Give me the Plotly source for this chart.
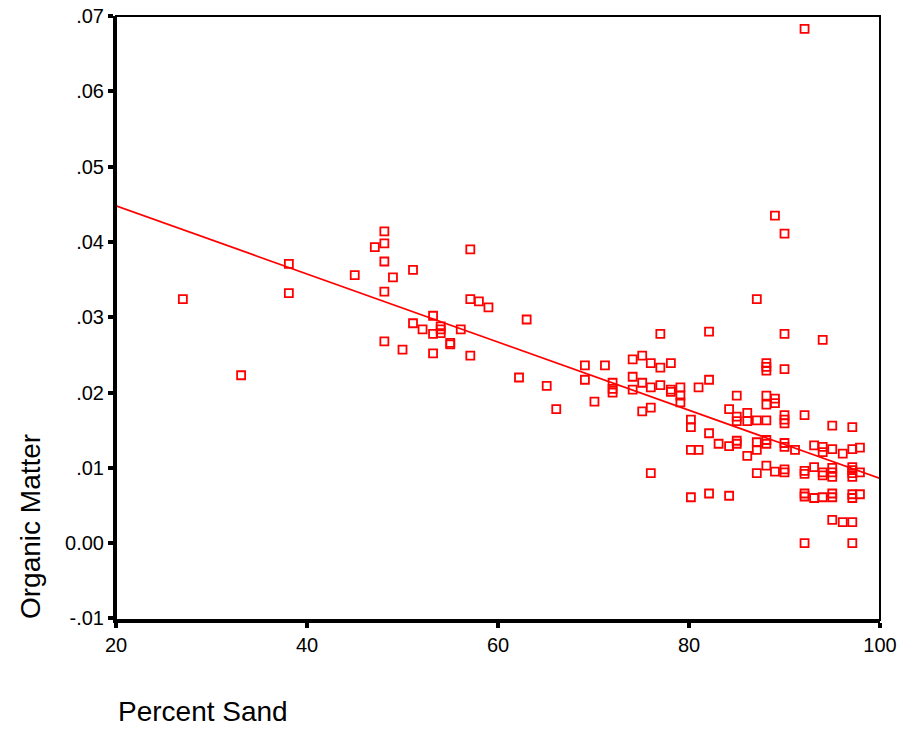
import plotly.graph_objects as go

# Data
sand = [
    27.0, 33.1, 38.1, 38.1, 45.0,
    47.1, 48.1, 48.1, 48.1, 48.1, 48.1,
    49.0, 50.0, 51.1, 51.1, 52.1,
    53.2, 53.2, 53.2, 54.0, 54.0, 54.0,
    55.0, 55.0, 56.1, 57.1, 57.1, 57.1,
    58.0, 59.0, 62.2, 63.0, 65.1, 66.1,
    69.1, 69.1, 70.1, 71.2, 72.0, 72.0, 72.0,
    74.1, 74.1, 74.1, 75.1, 75.1, 75.1,
    76.0, 76.0, 76.0, 76.0,
    77.0, 77.0, 77.0,
    78.1, 78.1, 78.1,
    79.1, 79.1, 79.1,
    80.2, 80.2, 80.2, 80.2,
    81.0, 81.0,
    82.1, 82.1, 82.1, 82.1,
    83.1,
    84.2, 84.2, 84.2,
    85.0, 85.0, 85.0, 85.0, 85.0,
    86.1, 86.1, 86.1,
    87.1, 87.1, 87.1, 87.1, 87.1,
    88.1, 88.1, 88.1, 88.1, 88.1, 88.1, 88.1, 88.1, 88.1,
    89.0, 89.0, 89.0, 89.0,
    90.0, 90.0, 90.0, 90.0, 90.0, 90.0, 90.0, 90.0, 90.0, 90.0,
    91.1,
    92.1, 92.1, 92.1, 92.1, 92.1, 92.1, 92.1,
    93.1, 93.1, 93.1,
    94.0, 94.0, 94.0, 94.0, 94.0, 94.0,
    95.0, 95.0, 95.0, 95.0, 95.0, 95.0, 95.0, 95.0,
    96.1, 96.1,
    97.1, 97.1, 97.1, 97.1, 97.1, 97.1, 97.1, 97.1, 97.1, 97.1,
    97.9, 97.9, 97.9,
]
organic = [
    0.0324, 0.0223, 0.0371, 0.0332, 0.0356,
    0.0393, 0.0414, 0.0398, 0.0374, 0.0334, 0.0268,
    0.0353, 0.0257, 0.0363, 0.0292, 0.0284,
    0.0302, 0.0278, 0.0252, 0.0288, 0.0284, 0.0279,
    0.0266, 0.0264, 0.0284, 0.0390, 0.0324, 0.0249,
    0.0321, 0.0313, 0.0220, 0.0297, 0.0209, 0.0178,
    0.0236, 0.0217, 0.0188, 0.0236, 0.0213, 0.0205, 0.0200,
    0.0244, 0.0221, 0.0204, 0.0249, 0.0213, 0.0175,
    0.0239, 0.0207, 0.0180, 0.0093,
    0.0278, 0.0233, 0.0210,
    0.0239, 0.0204, 0.0201,
    0.0207, 0.0196, 0.0187,
    0.0164, 0.0154, 0.0124, 0.0061,
    0.0207, 0.0124,
    0.0281, 0.0217, 0.0146, 0.0066,
    0.0132,
    0.0178, 0.0129, 0.0063,
    0.0196, 0.0168, 0.0162, 0.0136, 0.0132,
    0.0173, 0.0162, 0.0116,
    0.0324, 0.0163, 0.0134, 0.0124, 0.0093,
    0.0239, 0.0234, 0.0229, 0.0196, 0.0184, 0.0163, 0.0137, 0.0132, 0.0103,
    0.0435, 0.0192, 0.0186, 0.0095,
    0.0411, 0.0278, 0.0231, 0.0170, 0.0164, 0.0159, 0.0133, 0.0128, 0.0098, 0.0094,
    0.0124,
    0.0683, 0.0170, 0.0096, 0.0092, 0.0066, 0.0062, 0.0000,
    0.0130, 0.0101, 0.0060,
    0.0270, 0.0128, 0.0121, 0.0094, 0.0090, 0.0061,
    0.0156, 0.0125, 0.0100, 0.0094, 0.0088, 0.0066, 0.0061, 0.0031,
    0.0119, 0.0028,
    0.0154, 0.0125, 0.0101, 0.0097, 0.0093, 0.0088, 0.0065, 0.0060, 0.0028, 0.0000,
    0.0127, 0.0094, 0.0065,
]

# Fitted regression line
fit_x = [20, 100]
fit_y = [0.0448, 0.0086]

x_ticks = [20, 40, 60, 80, 100]
y_ticks = [-0.01, 0.0, 0.01, 0.02, 0.03, 0.04, 0.05, 0.06, 0.07]
y_ticktext = ["-.01", "0.00", ".01", ".02", ".03", ".04", ".05", ".06", ".07"]

FONT = "Liberation Sans, Arial, sans-serif"
RED = "#FF0000"

fig = go.Figure()
fig.add_trace(go.Scatter(
    x=fit_x, y=fit_y, mode="lines",
    line=dict(color=RED, width=1.7), hoverinfo="skip", showlegend=False,
))
fig.add_trace(go.Scatter(
    x=sand, y=organic, mode="markers",
    marker=dict(symbol="square-open", size=8, color=RED, line=dict(color=RED, width=1.8)),
    showlegend=False,
))

fig.update_layout(
    width=906, height=731,
    margin=dict(l=116, r=26, t=16, b=111, autoexpand=False),
    paper_bgcolor="white", plot_bgcolor="white",
    font=dict(family=FONT, color="black", size=20),
    xaxis=dict(
        range=[20, 100], tickvals=x_ticks, ticks="outside", ticklen=5, tickwidth=4,
        tickcolor="black", showline=True, linewidth=3, linecolor="black",
        showgrid=False, zeroline=False, tickfont=dict(size=20, family=FONT),
        automargin=False,
    ),
    yaxis=dict(
        range=[-0.0102, 0.07], tickvals=y_ticks, ticktext=y_ticktext, ticks="outside",
        ticklen=5, tickwidth=4, tickcolor="black", showline=True, linewidth=3,
        linecolor="black", showgrid=False, zeroline=False,
        tickfont=dict(size=20, family=FONT), automargin=False,
    ),
    shapes=[dict(type="rect", xref="paper", yref="paper", x0=0, x1=1, y0=0, y1=1,
                 line=dict(color="black", width=2), layer="above")],
    annotations=[
        dict(text="Percent Sand", xref="paper", yref="paper", x=0.0, y=-0.151,
             xanchor="left", yanchor="middle", showarrow=False,
             font=dict(size=28, family=FONT)),
        dict(text="Organic Matter", xref="paper", yref="paper", x=-0.1126, y=0.1556,
             xanchor="center", yanchor="middle", textangle=-90, showarrow=False,
             font=dict(size=28, family=FONT)),
    ],
)

fig.write_html("out.html")
